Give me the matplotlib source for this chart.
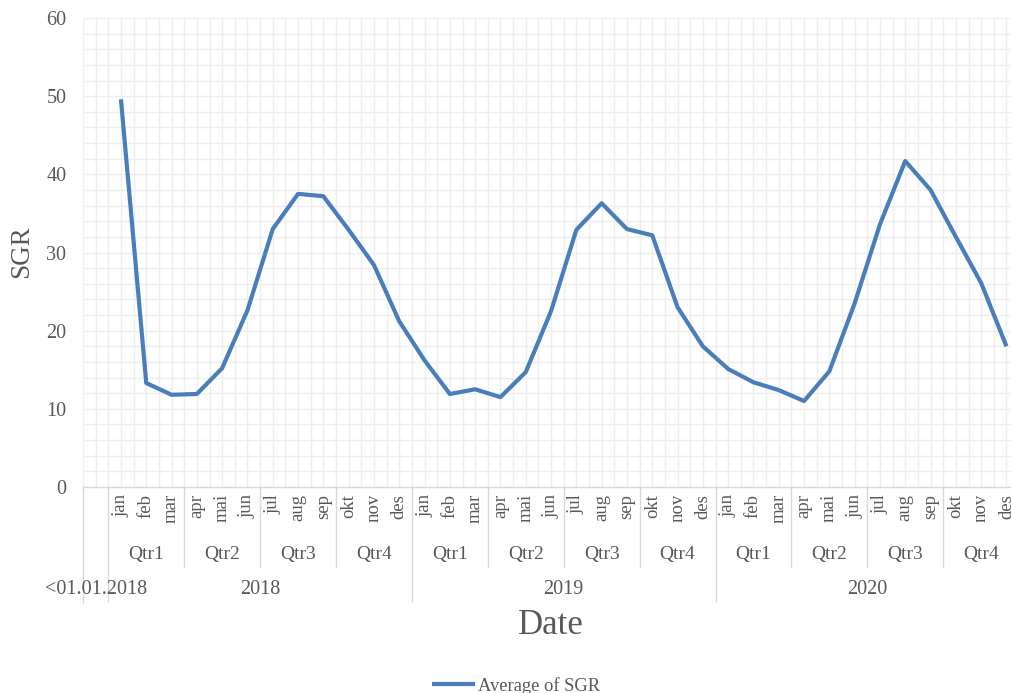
import numpy as np
import matplotlib
matplotlib.use("Agg")
import matplotlib.pyplot as plt
from matplotlib.ticker import MultipleLocator
from matplotlib.transforms import blended_transform_factory

plt.rcParams["font.family"] = ["Liberation Serif", "DejaVu Serif"]

# monthly averages, jan 2018 .. des 2020
years = ["2018", "2019", "2020"]
quarters = ["Qtr1", "Qtr2", "Qtr3", "Qtr4"]
months = ["jan", "feb", "mar", "apr", "mai", "jun",
          "jul", "aug", "sep", "okt", "nov", "des"]
first_label = "<01.01.2018"
sgr_2018 = [49.6, 13.3, 11.8, 11.9, 15.2, 22.6, 33.0, 37.5, 37.2, 32.9, 28.4, 21.2]
sgr_2019 = [16.2, 11.9, 12.5, 11.5, 14.7, 22.5, 32.9, 36.3, 33.0, 32.2, 23.0, 18.0]
sgr_2020 = [15.1, 13.4, 12.4, 11.0, 14.8, 23.5, 33.6, 41.7, 38.0, 32.0, 26.1, 18.0]

sgr = np.array(sgr_2018 + sgr_2019 + sgr_2020)
n_cat = 1 + len(sgr)          # leading "<01.01.2018" bucket has no value
x_month = np.arange(1, n_cat) + 0.5

W, H = 1011, 693
fig = plt.figure(figsize=(W / 100, H / 100), dpi=100)

cat_w = 25.3
left_px, bottom_px, top_px = 83, 487, 18
ax = fig.add_axes([left_px / W, (H - bottom_px) / H,
                   n_cat * cat_w / W, (bottom_px - top_px) / H])

grid_c = "#eeeeee"
text_c = "#595959"
line_c = "#4a7ebb"

ax.plot(x_month, sgr, color=line_c, lw=3, solid_joinstyle="round",
        solid_capstyle="butt", zorder=3, label="Average of SGR")

ax.set_xlim(0, n_cat)
ax.set_ylim(0, 60)
ax.yaxis.set_major_locator(MultipleLocator(10))
ax.yaxis.set_minor_locator(MultipleLocator(2))
ax.xaxis.set_major_locator(MultipleLocator(1))
ax.xaxis.set_minor_locator(MultipleLocator(0.5))
ax.grid(which="both", color=grid_c, lw=1)
ax.set_axisbelow(True)
ax.tick_params(which="both", length=0)
ax.tick_params(axis="y", pad=12, labelsize=14.5, labelcolor=text_c)
ax.set_xticklabels([])
for s in ["top", "right", "left"]:
    ax.spines[s].set_visible(False)
ax.spines["bottom"].set_color("#d9d9d9")
ax.spines["bottom"].set_linewidth(1)

# hierarchical category axis: month / quarter / year rows
tr = blended_transform_factory(ax.transData, fig.transFigure)


def fy(py):
    return (H - py) / H


sep_c = "#d9d9d9"
for i, m in enumerate(months * len(years)):
    ax.text(i + 1.5, fy(494), m, transform=tr, rotation=90, ha="center",
            va="top", fontsize=13.5, color=text_c, clip_on=False)

for k in range(len(years) * len(quarters)):
    x0 = 1 + 3 * k
    ax.text(x0 + 1.5, fy(555), quarters[k % 4], transform=tr, ha="center",
            va="center", fontsize=14, color=text_c)
    if k % 4 != 0:
        ax.plot([x0, x0], [fy(bottom_px), fy(567)], transform=tr,
                color=sep_c, lw=1, clip_on=False)

ax.text(0.5, fy(590), first_label, transform=tr, ha="center", va="center",
        fontsize=14.5, color=text_c)
for j, y in enumerate(years):
    x0 = 1 + 12 * j
    ax.text(x0 + 6, fy(590), y, transform=tr, ha="center", va="center",
            fontsize=14.5, color=text_c)
    ax.plot([x0, x0], [fy(bottom_px), fy(601)], transform=tr,
            color=sep_c, lw=1, clip_on=False)
ax.plot([0, 0], [fy(bottom_px), fy(603)], transform=tr,
        color=sep_c, lw=1, clip_on=False)

fig.text(551 / W, fy(625), "Date", ha="center", va="center",
         fontsize=25, color=text_c)
fig.text(22 / W, fy(252), "SGR", ha="center", va="center", rotation=90,
         fontsize=19.5, color=text_c)

fig.legend(loc="center", bbox_to_anchor=(516 / W, fy(686)), frameon=False,
           fontsize=13.3, handlelength=2.3, handletextpad=0.15,
           labelcolor=text_c, borderpad=0)

fig.savefig("out.png", dpi=100, facecolor="white")
